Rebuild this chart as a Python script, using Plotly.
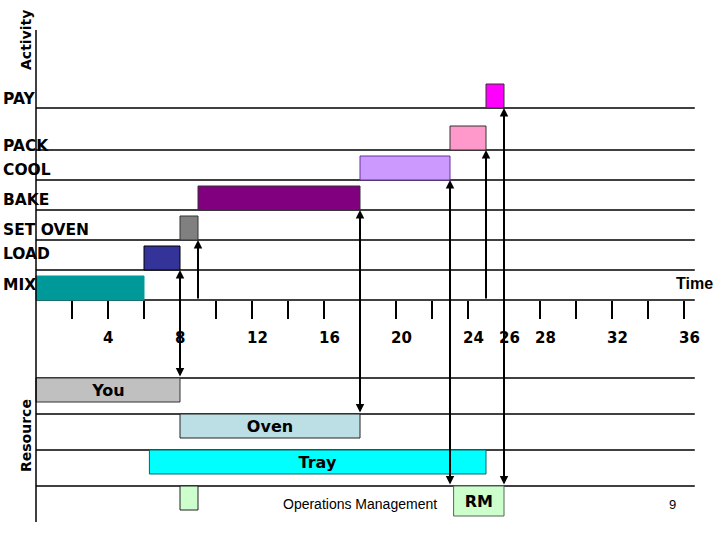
import plotly.graph_objects as go

# ---------------- data ----------------
activities = ["MIX", "LOAD", "SET OVEN", "BAKE", "COOL", "PACK", "PAY"]
act_start = [0, 6, 8, 9, 18, 23, 25]
act_end = [6, 8, 9, 18, 23, 25, 26]
act_colors = ["#009999", "#333399", "#808080", "#800080", "#CC99FF", "#FF99CC", "#FF00FF"]
act_outline = ["#009999", "#000000", "#333333", "#333333", "#663399", "#333333", "#333333"]

res_row = ["You", "Oven", "Tray", "RM", "RM"]
res_text = ["You", "Oven", "Tray", "", "RM"]
res_start = [0, 8, 6.3, 8, 23.2]
res_end = [8, 18, 25, 9, 26]
res_colors = ["#C0C0C0", "#BBDFE4", "#00FFFF", "#CCFFCC", "#CCFFCC"]
res_outline = ["#333333", "#222222", "#006666", "#222222", "#556655"]

# arrows: (time, from resource or None=time axis, to activity)
arrows = [(8, "You", "LOAD"), (9, None, "SET OVEN"), (18, "Oven", "BAKE"),
          (23, "RM", "COOL"), (25, None, "PACK"), (26, "RM", "PAY")]

tick_marks = list(range(2, 37, 2))
tick_labels = [4, 8, 12, 16, 20, 24, 26, 28, 32, 36]

# ---------------- layout geometry (pixels -> axis units) ----------------
W, H = 720, 540
AXIS_PX = 300
PX_Y = 30.0
def yu(p):
    return (AXIS_PX - p) / PX_Y

act_base_px = {"MIX": 300, "LOAD": 270, "SET OVEN": 240, "BAKE": 210,
               "COOL": 180, "PACK": 150, "PAY": 108}
act_label_px = {"MIX": 285, "LOAD": 254, "SET OVEN": 230, "BAKE": 200,
                "COOL": 170, "PACK": 146, "PAY": 99}
res_top_px = {"You": 378, "Oven": 414, "Tray": 450, "RM": 486}
res_h_px = [24, 24, 24, 24, 30]
BAR_H = 24
LINE_END = 36.6

BOLD = dict(family="DejaVu Sans", color="black", weight="bold")

fig = go.Figure()

# activity bars
fig.add_trace(go.Bar(
    orientation="h",
    y=[yu(act_base_px[a] - BAR_H / 2) for a in activities],
    base=act_start,
    x=[e - s for s, e in zip(act_start, act_end)],
    width=BAR_H / PX_Y,
    marker=dict(color=act_colors, line=dict(color=act_outline, width=1)),
    hoverinfo="skip",
    showlegend=False,
))

# resource bars
fig.add_trace(go.Bar(
    orientation="h",
    y=[yu(res_top_px[r] + h / 2) for r, h in zip(res_row, res_h_px)],
    base=res_start,
    x=[e - s for s, e in zip(res_start, res_end)],
    width=[h / PX_Y for h in res_h_px],
    marker=dict(color=res_colors, line=dict(color=res_outline, width=1)),
    text=res_text,
    textposition="inside",
    insidetextanchor="middle",
    textfont=dict(size=16, **BOLD),
    constraintext="none",
    cliponaxis=False,
    hoverinfo="skip",
    showlegend=False,
))

shapes = []
# horizontal row lines
for a in activities:
    shapes.append(dict(type="line", xref="x", yref="y", x0=0, x1=LINE_END,
                       y0=yu(act_base_px[a]), y1=yu(act_base_px[a]),
                       line=dict(color="black", width=1.5), layer="below"))
for r in ["You", "Oven", "Tray", "RM"]:
    shapes.append(dict(type="line", xref="x", yref="y", x0=0, x1=LINE_END,
                       y0=yu(res_top_px[r]), y1=yu(res_top_px[r]),
                       line=dict(color="black", width=1.5), layer="below"))
# vertical axis line
shapes.append(dict(type="line", xref="x", yref="y", x0=0, x1=0,
                   y0=yu(522), y1=yu(30), line=dict(color="black", width=1.5)))

annotations = []
# activity labels
for a in activities:
    annotations.append(dict(text=a, xref="paper", yref="y", x=0.5 / W,
                            y=yu(act_label_px[a]), xanchor="left", yanchor="middle",
                            showarrow=False, font=dict(size=15.5, **BOLD)))
# tick labels
for t in tick_labels:
    annotations.append(dict(text=str(t), xref="x", yref="y", x=t, y=yu(338),
                            xshift=5 if t >= 10 else 0, xanchor="center",
                            yanchor="middle", showarrow=False,
                            font=dict(size=15, **BOLD)))
# arrows
for t, src, dst in arrows:
    top = yu(act_base_px[dst])
    if src is None:
        bot = yu(AXIS_PX)
        side = "end"
    else:
        bot = yu(res_top_px[src])
        side = "end+start"
    annotations.append(dict(text="", xref="x", yref="y", axref="x", ayref="y",
                            x=t, y=top, ax=t, ay=bot, showarrow=True,
                            arrowhead=2, arrowsize=0.85, arrowwidth=2,
                            startarrowhead=2, startarrowsize=0.85,
                            arrowside=side, arrowcolor="black",
                            standoff=0, startstandoff=0))
# axis titles and other text
annotations += [
    dict(text="Time", xref="paper", yref="paper", x=694 / W, y=1 - 283 / H,
         xanchor="center", yanchor="middle", showarrow=False,
         font=dict(family="Liberation Sans", size=16, color="black", weight="bold")),
    dict(text="Activity", xref="paper", yref="paper", x=26 / W, y=1 - 40 / H,
         xanchor="center", yanchor="middle", textangle=-90, showarrow=False,
         font=dict(size=14, **BOLD)),
    dict(text="Resource", xref="paper", yref="paper", x=26 / W, y=1 - 435 / H,
         xanchor="center", yanchor="middle", textangle=-90, showarrow=False,
         font=dict(size=14, **BOLD)),
    dict(text="Operations Management", xref="paper", yref="paper", x=360 / W,
         y=1 - 504 / H, xanchor="center", yanchor="middle", showarrow=False,
         font=dict(family="Liberation Sans", size=14, color="black")),
    dict(text="9", xref="paper", yref="paper", x=672 / W, y=1 - 504 / H,
         xanchor="center", yanchor="middle", showarrow=False,
         font=dict(family="Liberation Sans", size=13, color="black")),
]

fig.update_layout(
    width=W, height=H,
    margin=dict(l=0, r=0, t=0, b=0),
    paper_bgcolor="white", plot_bgcolor="white",
    barmode="overlay",
    shapes=shapes,
    annotations=annotations,
    xaxis=dict(range=[-2, 38], anchor="free", position=(H - AXIS_PX) / H,
               showgrid=False, zeroline=False, showline=False,
               ticks="outside", ticklen=18, tickwidth=1.5, tickcolor="black",
               tickvals=tick_marks, showticklabels=False, fixedrange=True),
    yaxis=dict(range=[yu(H), yu(0)], visible=False, fixedrange=True),
    showlegend=False,
)

fig.write_html(
    "out.html",
    config={"displayModeBar": False},
    post_script="document.body.style.margin='0';document.body.style.overflow='hidden';",
)
